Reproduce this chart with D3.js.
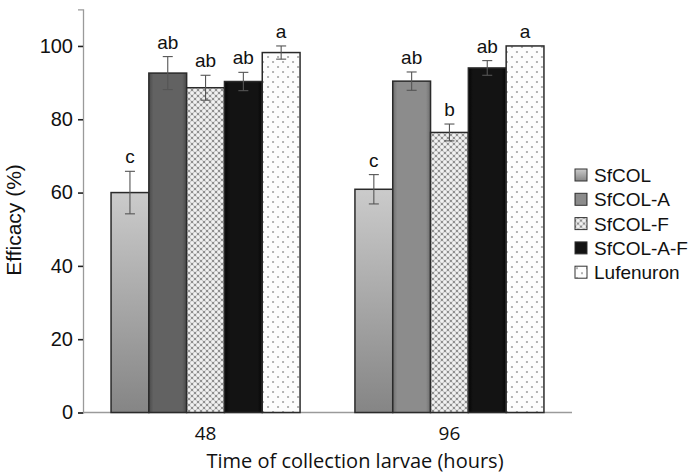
<!DOCTYPE html>
<html>
<head>
<meta charset="utf-8">
<script src="https://cdn.jsdelivr.net/npm/d3@7"></script>
<style>
  body { margin: 0; background: #fff; }
  svg { display: block; }
</style>
</head>
<body>
<div id="chart"></div>
<script>
// Datos
const groups = ["48", "96"];
const series = ["SfCOL", "SfCOL-A", "SfCOL-F", "SfCOL-A-F", "Lufenuron"];
const values48 = [60.0, 92.6, 88.6, 90.3, 98.2];
const values96 = [60.9, 90.4, 76.4, 94.0, 100.0];
const errors48 = [5.8, 4.5, 3.4, 2.5, 1.8];
const errors96 = [4.0, 2.5, 2.3, 2.0, 0];
const letters48 = ["c", "ab", "ab", "ab", "a"];
const letters96 = ["c", "ab", "b", "ab", "a"];
const yTicks = [0, 20, 40, 60, 80, 100];

const width = 700, height = 475;
const svg = d3.select("#chart").append("svg")
    .attr("width", width)
    .attr("height", height);

const defs = svg.append("defs");

// Degradado para SfCOL
const gradCol = defs.append("linearGradient").attr("id", "gCol")
    .attr("x1", 0).attr("y1", 0).attr("x2", 0).attr("y2", 1);
gradCol.append("stop").attr("offset", "0%").attr("stop-color", "#cbcbcb");
gradCol.append("stop").attr("offset", "100%").attr("stop-color", "#858585");

// Degradado horizontal suave (efecto de bisel)
function bevel(id, edge, mid) {
    const g = defs.append("linearGradient").attr("id", id)
        .attr("x1", 0).attr("y1", 0).attr("x2", 1).attr("y2", 0);
    g.append("stop").attr("offset", "0%").attr("stop-color", edge);
    g.append("stop").attr("offset", "12%").attr("stop-color", mid);
    g.append("stop").attr("offset", "88%").attr("stop-color", mid);
    g.append("stop").attr("offset", "100%").attr("stop-color", edge);
}
bevel("gA48", "#4a4a4a", "#626262");
bevel("gA96", "#6e6e6e", "#8c8c8c");
bevel("gAF", "#050505", "#131313");

// Patrón de cuadros para SfCOL-F
const pF = defs.append("pattern").attr("id", "pF")
    .attr("width", 6).attr("height", 6)
    .attr("patternUnits", "userSpaceOnUse");
pF.append("rect").attr("width", 6).attr("height", 6).attr("fill", "#8e8e8e");
[[0, 0], [6, 0], [0, 6], [6, 6], [3, 3]].forEach(p => {
    pF.append("circle").attr("cx", p[0]).attr("cy", p[1]).attr("r", 2.0).attr("fill", "#f2f2f2");
});

// Patrón de puntos para Lufenuron
const pL = defs.append("pattern").attr("id", "pL")
    .attr("width", 10).attr("height", 10)
    .attr("patternUnits", "userSpaceOnUse");
pL.append("rect").attr("width", 10).attr("height", 10).attr("fill", "#fdfdfd");
[[2, 2], [7, 7]].forEach(p => {
    pL.append("circle").attr("cx", p[0]).attr("cy", p[1]).attr("r", 1.0).attr("fill", "#9a9a9a");
});

const fills = {
    "48": ["url(#gCol)", "url(#gA48)", "url(#pF)", "url(#gAF)", "url(#pL)"],
    "96": ["url(#gCol)", "url(#gA96)", "url(#pF)", "url(#gAF)", "url(#pL)"]
};
const legendFills = ["url(#gCol)", "url(#gA96)", "url(#pF)", "url(#gAF)", "url(#pL)"];

const data = groups.map((g, gi) => ({
    group: g,
    values: (gi === 0 ? values48 : values96),
    errors: (gi === 0 ? errors48 : errors96),
    letters: (gi === 0 ? letters48 : letters96)
}));

// Escalas
const x0 = d3.scaleBand().domain(groups).range([83, 572])
    .paddingInner(0.225).paddingOuter(0.115);
const x1 = d3.scaleBand().domain(series).range([0, x0.bandwidth()]);
const y = d3.scaleLinear().domain([0, 110]).range([412.5, 9.3]);

// Ejes
const yAxis = svg.append("g").attr("transform", "translate(83,0)")
    .call(d3.axisLeft(y).tickValues(yTicks).tickSize(5).tickPadding(5));
yAxis.select(".domain").attr("stroke", "#9a9a9a").attr("stroke-width", 1.3);
yAxis.selectAll(".tick line").attr("stroke", "#222").attr("stroke-width", 1.6);
yAxis.selectAll(".tick text")
    .attr("font-family", "Arial, 'Liberation Sans', sans-serif")
    .attr("font-size", 20).attr("fill", "#111");

svg.append("line")
    .attr("x1", 83).attr("x2", 572)
    .attr("y1", y(0)).attr("y2", y(0))
    .attr("stroke", "#9a9a9a").attr("stroke-width", 1.3);

// Barras
const gGroups = svg.selectAll(".grp").data(data).enter().append("g")
    .attr("class", "grp")
    .attr("transform", d => `translate(${x0(d.group)},0)`);

const bars = gGroups.selectAll(".bar")
    .data(d => series.map((s, i) => ({
        group: d.group, series: s, i: i,
        value: d.values[i], err: d.errors[i], letter: d.letters[i]
    })))
    .enter().append("g").attr("class", "bar");

bars.append("rect")
    .attr("x", d => x1(d.series))
    .attr("y", d => y(d.value))
    .attr("width", x1.bandwidth())
    .attr("height", d => y(0) - y(d.value))
    .attr("fill", d => fills[d.group][d.i])
    .attr("stroke", "#2a2a2a")
    .attr("stroke-width", 1.5);

// Barras de error
const eb = bars.filter(d => d.err > 0).append("g").attr("stroke", "#555").attr("stroke-width", 1.1);
eb.append("line")
    .attr("x1", d => x1(d.series) + x1.bandwidth() / 2)
    .attr("x2", d => x1(d.series) + x1.bandwidth() / 2)
    .attr("y1", d => y(d.value + d.err))
    .attr("y2", d => y(d.value - d.err));
eb.selectAll(".cap").data(d => [d.value + d.err, d.value - d.err].map(v => ({ v: v, d: d })))
    .enter().append("line")
    .attr("x1", o => x1(o.d.series) + x1.bandwidth() / 2 - 5)
    .attr("x2", o => x1(o.d.series) + x1.bandwidth() / 2 + 5)
    .attr("y1", o => y(o.v))
    .attr("y2", o => y(o.v));

// Letras de significancia
bars.append("text")
    .attr("x", d => x1(d.series) + x1.bandwidth() / 2)
    .attr("y", d => y(d.value + d.err) - 8)
    .attr("text-anchor", "middle")
    .attr("font-family", "Arial, 'Liberation Sans', sans-serif")
    .attr("font-size", 19)
    .attr("fill", "#111")
    .text(d => d.letter);

// Etiquetas del eje X
svg.selectAll(".xlab").data(groups).enter().append("text")
    .attr("x", d => x0(d) + x0.bandwidth() / 2)
    .attr("y", 440)
    .attr("text-anchor", "middle")
    .attr("font-family", "'Open Sans', sans-serif")
    .attr("font-size", 19)
    .attr("fill", "#111")
    .text(d => d);

svg.append("text")
    .attr("x", 355).attr("y", 468)
    .attr("text-anchor", "middle")
    .attr("font-family", "'Open Sans', sans-serif")
    .attr("font-size", 20)
    .attr("fill", "#111")
    .text("Time of collection larvae (hours)");

svg.append("text")
    .attr("transform", "translate(21,220) rotate(-90)")
    .attr("text-anchor", "middle")
    .attr("font-family", "Arial, 'Liberation Sans', sans-serif")
    .attr("font-size", 21)
    .attr("fill", "#111")
    .text("Efficacy (%)");

// Leyenda
const legend = svg.selectAll(".legend").data(series).enter().append("g")
    .attr("class", "legend")
    .attr("transform", (d, i) => `translate(575,${169 + i * 24.3})`);
legend.append("rect")
    .attr("width", 12).attr("height", 12)
    .attr("fill", (d, i) => legendFills[i])
    .attr("stroke", "#333").attr("stroke-width", 1);
legend.append("text")
    .attr("x", 19).attr("y", 13)
    .attr("font-family", "Arial, 'Liberation Sans', sans-serif")
    .attr("font-size", 19)
    .attr("fill", "#111")
    .text(d => d);
</script>
</body>
</html>
